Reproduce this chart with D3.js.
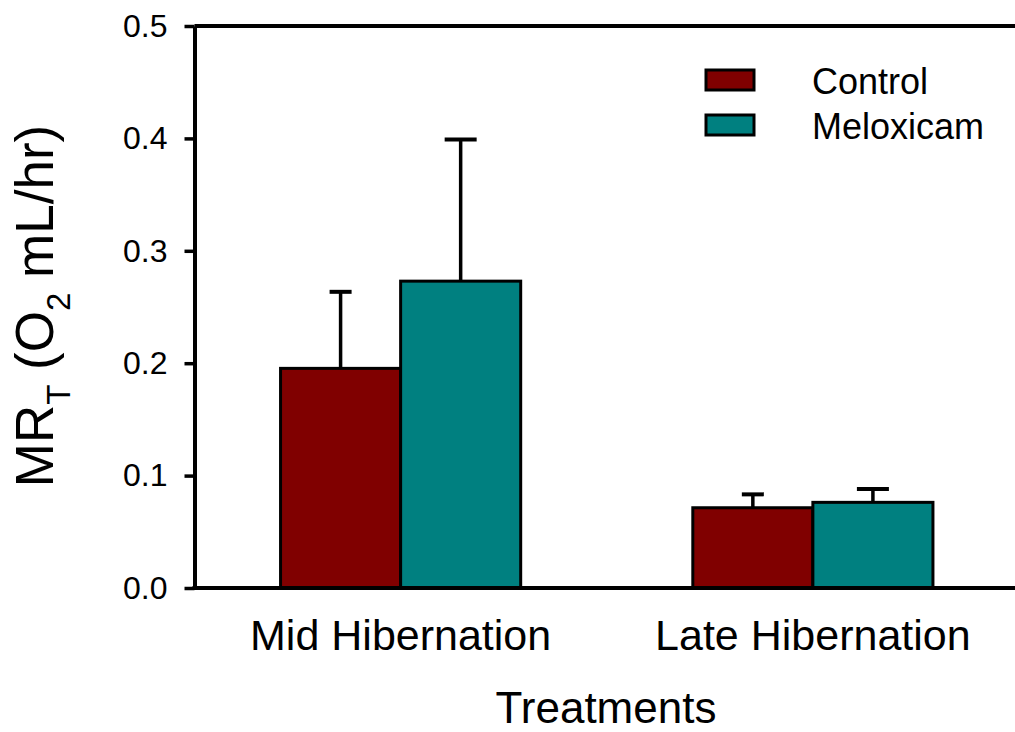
<!DOCTYPE html>
<html>
<head>
<meta charset="utf-8">
<script src="https://cdn.jsdelivr.net/npm/d3@7"></script>
<style>
  html, body { margin: 0; padding: 0; background: #fff; }
  svg { display: block; font-family: "Liberation Sans", Arial, sans-serif; }
</style>
</head>
<body>
<svg id="chart" width="1015" height="732"></svg>
<script>
const groups = ["Mid Hibernation", "Late Hibernation"];
const series = ["Control", "Meloxicam"];
const controlMeans = [0.1954, 0.0714];
const controlErrors = [0.0681, 0.0119];
const meloxicamMeans = [0.2730, 0.0762];
const meloxicamErrors = [0.1260, 0.0118];
const yTicks = [0.0, 0.1, 0.2, 0.3, 0.4, 0.5];
const colors = ["#800000", "#008080"];
const capWidths = [22, 32];

const means = [controlMeans, meloxicamMeans];
const errors = [controlErrors, meloxicamErrors];

const svg = d3.select("#chart");
const axisX = 194.5, yBottom = 588, yTop = 26, rightEdge = 1019;

const y = d3.scaleLinear().domain([0, 0.5]).range([yBottom, yTop]);
const x0 = d3.scaleBand().domain(groups).range([axisX, rightEdge])
  .paddingInner(0.4175).paddingOuter(0.20875);
const x1 = d3.scaleBand().domain(series).range([0, x0.bandwidth()]);

const data = [];
groups.forEach((g, gi) => {
  series.forEach((s, si) => {
    data.push({ g, s, si, mean: means[si][gi], err: errors[si][gi] });
  });
});

// error bars (drawn behind bars)
const eb = svg.append("g");
data.forEach(d => {
  const cx = x0(d.g) + x1(d.s) + x1.bandwidth() / 2;
  eb.append("line").attr("x1", cx).attr("x2", cx)
    .attr("y1", y(d.mean)).attr("y2", y(d.mean + d.err))
    .attr("stroke", "#000").attr("stroke-width", 3.5);
  eb.append("line").attr("x1", cx - capWidths[d.si] / 2).attr("x2", cx + capWidths[d.si] / 2)
    .attr("y1", y(d.mean + d.err)).attr("y2", y(d.mean + d.err))
    .attr("stroke", "#000").attr("stroke-width", 4);
});

// bars
svg.append("g").selectAll("rect").data(data).join("rect")
  .attr("x", d => x0(d.g) + x1(d.s))
  .attr("y", d => y(d.mean))
  .attr("width", x1.bandwidth())
  .attr("height", d => y(0) - y(d.mean))
  .attr("fill", d => colors[d.si])
  .attr("stroke", "#000").attr("stroke-width", 3);

// frame lines (top and bottom, extending past right edge)
svg.append("line").attr("x1", axisX).attr("x2", 1015).attr("y1", y(0.5)).attr("y2", y(0.5))
  .attr("stroke", "#000").attr("stroke-width", 4);
svg.append("line").attr("x1", axisX - 2).attr("x2", 1015).attr("y1", y(0)).attr("y2", y(0))
  .attr("stroke", "#000").attr("stroke-width", 4);

// y axis
const yAxis = d3.axisLeft(y).tickValues(yTicks).tickFormat(d3.format(".1f"))
  .tickSize(10).tickSizeOuter(0).tickPadding(17);
const ya = svg.append("g").attr("transform", `translate(${axisX},0)`).call(yAxis);
ya.select(".domain").attr("stroke", "#000").attr("stroke-width", 4);
ya.selectAll(".tick line").attr("stroke", "#000").attr("stroke-width", 3.5);
ya.selectAll(".tick text").attr("font-size", 32).attr("fill", "#000")
  .attr("font-family", "'Liberation Sans', Arial, sans-serif");

// x category labels
svg.append("g").selectAll("text").data(groups).join("text")
  .attr("x", d => x0(d) + x0.bandwidth() / 2)
  .attr("y", 650)
  .attr("text-anchor", "middle")
  .attr("font-size", 43)
  .attr("fill", "#000")
  .text(d => d);

// x title
svg.append("text").attr("x", 606).attr("y", 723).attr("text-anchor", "middle")
  .attr("font-size", 44).attr("fill", "#000").text("Treatments");

// y title
const yt = svg.append("text")
  .attr("transform", "translate(53,306) rotate(-90)")
  .attr("text-anchor", "middle")
  .attr("font-size", 53).attr("fill", "#000");
yt.append("tspan").text("MR");
yt.append("tspan").attr("font-size", 33).attr("dy", 17).text("T");
yt.append("tspan").attr("dy", -17).text(" (O");
yt.append("tspan").attr("font-size", 33).attr("dy", 17).text("2");
yt.append("tspan").attr("dy", -17).text(" mL/hr)");

// legend
const legend = svg.append("g");
series.forEach((s, i) => {
  const ly = 70 + i * 45;
  legend.append("rect").attr("x", 706).attr("y", ly).attr("width", 48).attr("height", 20)
    .attr("fill", colors[i]).attr("stroke", "#000").attr("stroke-width", 3);
  legend.append("text").attr("x", 812).attr("y", ly + 24).attr("font-size", 36)
    .attr("fill", "#000").text(s);
});
</script>
</body>
</html>
